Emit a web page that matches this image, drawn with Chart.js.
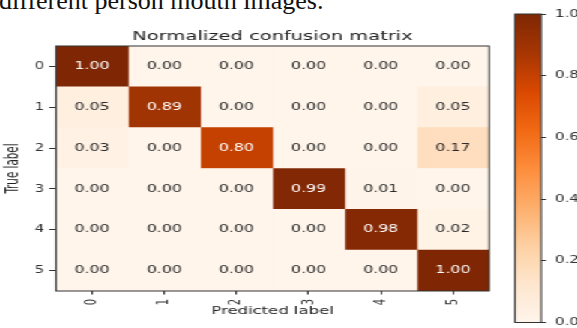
<!DOCTYPE html>
<html>
<head>
<meta charset="utf-8">
<script src="https://cdn.jsdelivr.net/npm/chart.js@4.4.0/dist/chart.umd.min.js"></script>
<style>
  html, body { margin: 0; padding: 0; background: #fff; overflow: hidden; }
  body { width: 577px; height: 328px; position: relative; }
  .caption {
    position: absolute; left: -1px; top: -12px;
    font-family: 'Liberation Serif', 'Times New Roman', serif;
    font-size: 26px; line-height: 26px; color: #111; white-space: nowrap;
  }
  /* the whole figure is stretched sideways in the reference */
  .stage {
    position: absolute; left: 0; top: 0; width: 385px; height: 328px;
    transform: scaleX(1.4987); transform-origin: 0 0;
  }
  .main { position: absolute; left: 0; top: 0; width: 340px; height: 328px; }
  .cbar { position: absolute; left: 335px; top: 0; width: 50px; height: 328px; }
</style>
</head>
<body>
<div class="caption">different person mouth images.</div>
<div class="stage">
  <div class="main"><canvas id="matrixChart"></canvas></div>
  <div class="cbar"><canvas id="colorbarChart"></canvas></div>
</div>
<script>
// data
const trueLabels = ['0', '1', '2', '3', '4', '5'];
const predLabels = ['0', '1', '2', '3', '4', '5'];
const row0 = [1.00, 0.00, 0.00, 0.00, 0.00, 0.00];
const row1 = [0.05, 0.89, 0.00, 0.00, 0.00, 0.05];
const row2 = [0.03, 0.00, 0.80, 0.00, 0.00, 0.17];
const row3 = [0.00, 0.00, 0.00, 0.99, 0.01, 0.00];
const row4 = [0.00, 0.00, 0.00, 0.00, 0.98, 0.02];
const row5 = [0.00, 0.00, 0.00, 0.00, 0.00, 1.00];
const matrix = [row0, row1, row2, row3, row4, row5];
const colorbarTicks = [0.0, 0.2, 0.4, 0.6, 0.8, 1.0];

// matplotlib "Oranges"
const orangeStops = ['#fff5eb', '#fee6ce', '#fdd0a2', '#fdae6b', '#fd8d3c', '#f16913', '#d94801', '#a63603', '#7f2704'];

function hexToRgb(h) {
    return [parseInt(h.slice(1, 3), 16), parseInt(h.slice(3, 5), 16), parseInt(h.slice(5, 7), 16)];
}

function oranges(v) {
    const t = Math.max(0, Math.min(1, v)) * (orangeStops.length - 1);
    const i = Math.min(Math.floor(t), orangeStops.length - 2);
    const f = t - i;
    const a = hexToRgb(orangeStops[i]);
    const b = hexToRgb(orangeStops[i + 1]);
    const c = a.map((x, k) => Math.round(x + (b[k] - x) * f));
    return `rgb(${c[0]}, ${c[1]}, ${c[2]})`;
}

const axisColor = '#333';
const font = 'DejaVu Sans';

const framePlugin = {
    id: 'frame',
    afterDatasetsDraw(chart) {
        const {ctx, chartArea: a} = chart;
        ctx.save();
        ctx.strokeStyle = axisColor;
        ctx.lineWidth = 1;
        ctx.strokeRect(a.left, a.top, a.right - a.left, a.bottom - a.top);
        ctx.restore();
    }
};

const cellText = {
    id: 'cellText',
    afterDatasetsDraw(chart) {
        const {ctx, scales} = chart;
        ctx.save();
        ctx.font = `10.5px "${font}"`;
        ctx.textAlign = 'center';
        ctx.textBaseline = 'middle';
        matrix.forEach((row, i) => {
            row.forEach((v, j) => {
                const x = scales.x.getPixelForValue(j + 0.5);
                const y = scales.y.getPixelForValue(i);
                ctx.fillStyle = v > 0.5 ? '#ffffff' : '#2b2b2b';
                ctx.fillText(v.toFixed(2), x, y);
            });
        });
        ctx.restore();
    }
};

// one floating-bar dataset per predicted column
const datasets = predLabels.map((p, j) => ({
    label: p,
    data: matrix.map(() => [j, j + 1]),
    backgroundColor: matrix.map(row => oranges(row[j])),
    borderWidth: 0,
    barPercentage: 1,
    categoryPercentage: 1,
    grouped: false
}));

new Chart(document.getElementById('matrixChart'), {
    type: 'bar',
    data: { labels: trueLabels, datasets: datasets },
    plugins: [cellText, framePlugin],
    options: {
        indexAxis: 'y',
        responsive: true,
        maintainAspectRatio: false,
        animation: false,
        layout: { padding: { left: 0, right: 13.7, top: 0, bottom: 0 } },
        plugins: {
            legend: { display: false },
            tooltip: { enabled: false },
            title: {
                display: true,
                text: 'Normalized confusion matrix',
                fullSize: false,
                color: '#222',
                font: { family: font, size: 13, weight: 'normal' },
                padding: { top: 29, bottom: 1.4 }
            }
        },
        scales: {
            x: {
                type: 'linear',
                min: 0,
                max: predLabels.length,
                afterBuildTicks: (scale) => {
                    scale.ticks = predLabels.map((p, j) => ({ value: j + 0.5 }));
                },
                afterFit: (scale) => { scale.height = 37; },
                ticks: {
                    callback: (v, idx) => predLabels[idx],
                    minRotation: 90,
                    maxRotation: 90,
                    padding: 4.5,
                    color: axisColor,
                    font: { family: font, size: 10 }
                },
                grid: { drawOnChartArea: false, tickLength: 3.5, color: axisColor },
                border: { display: false },
                title: {
                    display: true,
                    text: 'Predicted label',
                    color: '#222',
                    font: { family: font, size: 11 },
                    padding: { top: 0, bottom: 10.4 }
                }
            },
            y: {
                type: 'category',
                afterFit: (scale) => { scale.width = 37.4; },
                ticks: {
                    padding: 3.3,
                    color: axisColor,
                    font: { family: font, size: 10 }
                },
                grid: { drawOnChartArea: false, tickLength: 4.5, color: axisColor, offset: false },
                border: { display: false },
                title: {
                    display: true,
                    text: 'True label',
                    color: '#222',
                    font: { family: '"Liberation Sans Narrow", "DejaVu Sans Condensed", sans-serif', size: 11.5 },
                    padding: { top: 2.4, bottom: 0 }
                }
            }
        }
    }
});

// colour bar
new Chart(document.getElementById('colorbarChart'), {
    type: 'bar',
    data: {
        labels: [''],
        datasets: [{
            data: [[colorbarTicks[0], colorbarTicks[colorbarTicks.length - 1]]],
            backgroundColor: (c) => {
                const area = c.chart.chartArea;
                if (!area) return null;
                const g = c.chart.ctx.createLinearGradient(0, area.bottom, 0, area.top);
                orangeStops.forEach((s, k) => g.addColorStop(k / (orangeStops.length - 1), s));
                return g;
            },
            borderWidth: 0,
            barPercentage: 1,
            categoryPercentage: 1
        }]
    },
    plugins: [framePlugin],
    options: {
        responsive: true,
        maintainAspectRatio: false,
        animation: false,
        layout: { padding: { left: 8.6, right: 0, top: 14, bottom: 5.5 } },
        plugins: { legend: { display: false }, tooltip: { enabled: false } },
        scales: {
            x: { display: false },
            y: {
                position: 'right',
                min: 0,
                max: 1,
                afterBuildTicks: (scale) => {
                    scale.ticks = colorbarTicks.map(v => ({ value: v }));
                },
                afterFit: (scale) => {
                    scale.width = 24;
                    scale.paddingTop = 0;
                    scale.paddingBottom = 0;
                },
                ticks: {
                    callback: (v) => Number(v).toFixed(1),
                    padding: 6,
                    color: axisColor,
                    font: { family: font, size: 10 }
                },
                grid: { drawOnChartArea: false, tickLength: 3.3, color: axisColor },
                border: { display: false }
            }
        }
    }
});
</script>
</body>
</html>
